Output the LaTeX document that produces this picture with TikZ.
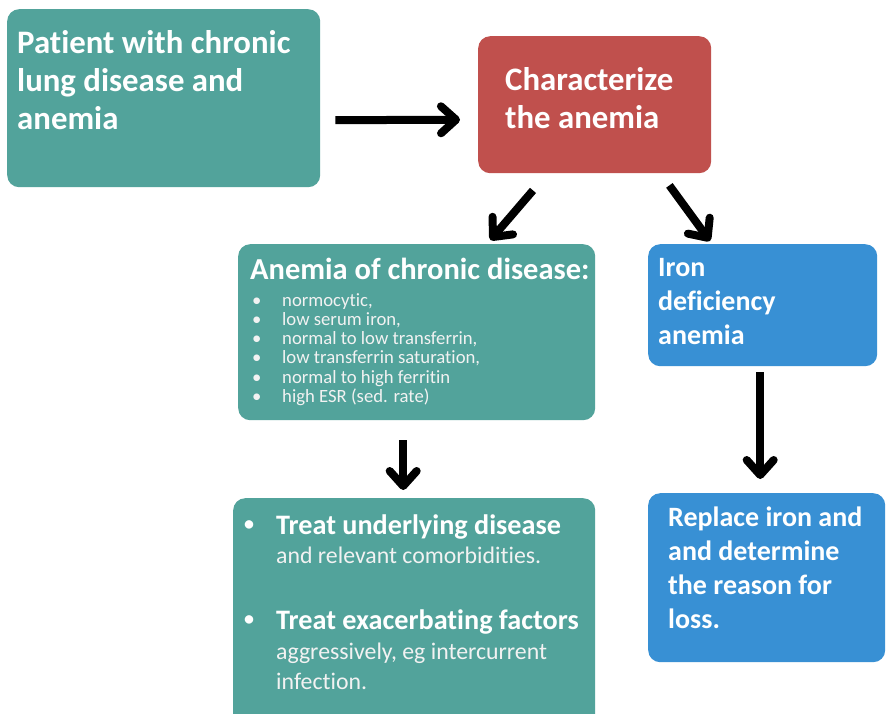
\documentclass[tikz,border=0pt]{standalone}
\usepackage{fontspec}
\setmainfont{Carlito}[Ligatures={NoCommon}]
\usetikzlibrary{arrows.meta,calc}
\definecolor{tealbox}{HTML}{52A39B}
\definecolor{redbox}{HTML}{C0504D}
\definecolor{bluebox}{HTML}{3890D4}
\definecolor{softwhite}{HTML}{F2F2F2}
\begin{document}
\begin{tikzpicture}[x=1pt,y=-1pt,
  box/.style={rounded corners=12pt, inner sep=0pt, anchor=north west, draw=none},
  txt/.style={anchor=north west, inner sep=0pt, text=white, align=left},
  bigtxt/.style={txt, font=\fontsize{32.8}{38}\selectfont\bfseries},
  midtxt/.style={txt, font=\fontsize{28}{34}\selectfont\bfseries},
  headtxt/.style={txt, font=\fontsize{30.5}{32}\selectfont\bfseries},
  treattxt/.style={txt, font=\fontsize{28.2}{32}\selectfont\bfseries},
  bultxt/.style={txt, font=\fontsize{20}{24}\selectfont\bfseries},
  listtxt/.style={txt, text=softwhite, font=\fontsize{18.7}{19.3}\selectfont},
  subtxt/.style={txt, text=softwhite, font=\fontsize{23.8}{30}\selectfont},
  arr/.style={line width=8pt, line cap=butt, -{Straight Barb[length=15pt,width=27pt,line cap=round,line join=round]}}
]
\useasboundingbox (0,0) rectangle (887,713);
\fill[white] (0,0) rectangle (887,713);

% boxes
\node[box, fill=tealbox, minimum width=313pt, minimum height=178pt] (b1) at (7,9) {};
\node[box, fill=redbox, minimum width=233pt, minimum height=137pt] (b2) at (478,36) {};
\node[box, fill=tealbox, minimum width=357pt, minimum height=176pt] (b3) at (238,244) {};
\node[box, fill=bluebox, minimum width=229pt, minimum height=122pt] (b4) at (648,244) {};
\node[box, fill=tealbox, minimum width=362pt, minimum height=230pt] (b5) at (233,498) {};
\node[box, fill=bluebox, minimum width=237pt, minimum height=169pt] (b6) at (648,493) {};

% texts
\node[bigtxt] (t1) at (17,30) {Patient with chronic\\lung disease and\\anemia};
\node[bigtxt] (t2) at (505,67) {Characterize\\the anemia};
\node[headtxt] (t3) at (250,258) {Anemia of chronic disease:};
\node[listtxt] (t3l) at (252,293) {%
\makebox[30pt][l]{\textbullet}normocytic,\\
\makebox[30pt][l]{\textbullet}low serum iron,\\
\makebox[30pt][l]{\textbullet}normal to low transferrin,\\
\makebox[30pt][l]{\textbullet}low transferrin saturation,\\
\makebox[30pt][l]{\textbullet}normal to high ferritin\\
\makebox[30pt][l]{\textbullet}high ESR (sed. rate)};
\node[midtxt] (t4) at (658,258) {Iron\\deficiency\\anemia};
\node[midtxt] (t6) at (668,507) {Replace iron and\\and determine\\the reason for\\loss.};
\node[bultxt] (t5b1) at (244,520) {\textbullet};
\node[treattxt] (t5a) at (276,515) {Treat underlying disease};
\node[subtxt] (t5as) at (276,547) {and relevant comorbidities.};
\node[bultxt] (t5b2) at (244,615) {\textbullet};
\node[treattxt] (t5c) at (276,610) {Treat exacerbating factors};
\node[subtxt] (t5cs) at (276,643) {aggressively, eg intercurrent\\infection.};

% arrows
\draw[arr] ($(b1.east)+(15,22)$) -- ($(b2.west)+(-18,15)$);
\draw[arr] ($(b2.south west)+(55,17)$) -- ($(b3.north east)+(-105,-4)$);
\draw[arr] ($(b2.south east)+(-42,12)$) -- ($(b4.north west)+(62,-3)$);
\draw[arr] ($(b3.south)+(-13.5,20)$) -- ($(b5.north)+(-11,-8)$);
\draw[arr] ($(b4.south)+(-2.5,6)$) -- ($(b6.north)+(-6.5,-14)$);
\end{tikzpicture}
\end{document}
